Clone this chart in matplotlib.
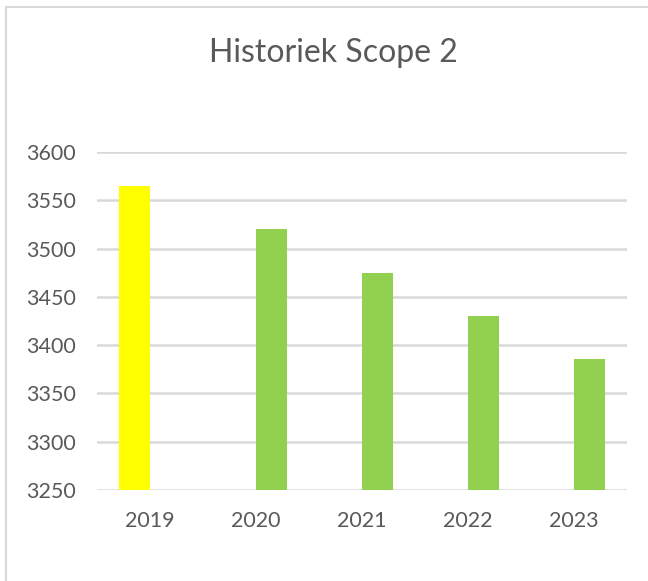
import matplotlib.pyplot as plt
from matplotlib.patches import Rectangle
import numpy as np

plt.rcParams['font.family'] = ['Lato', 'DejaVu Sans']

years = ["2019", "2020", "2021", "2022", "2023"]
series_yellow = [3565, np.nan, np.nan, np.nan, np.nan]
series_green = [np.nan, 3520, 3475, 3430, 3386]

fig = plt.figure(figsize=(6.48, 5.81), dpi=100)

# light chart frame like the Excel chart border
fig.patches.append(Rectangle((6 / 648, -0.1), 1.2, 1 - 7 / 581 + 0.1,
                             transform=fig.transFigure, fill=False,
                             edgecolor="#d9d9d9", linewidth=1.5))

ax = fig.add_axes([97 / 648, 1 - 490 / 581, 530 / 648, 338 / 581])

x = np.arange(len(years))
w = 0.29
ax.bar(x - w / 2, series_yellow, width=w, color="#FFFF00", zorder=3)
ax.bar(x + w / 2, series_green, width=w, color="#92D050", zorder=3)

ax.set_ylim(3250, 3600)
ax.set_yticks(np.arange(3250, 3601, 50))
ax.set_xlim(-0.5, len(years) - 0.5)
ax.set_xticks(x)
ax.set_xticklabels(years)

ax.grid(axis="y", color="#d9d9d9", linewidth=1.8, zorder=0)
for s in ax.spines.values():
    s.set_visible(False)
ax.tick_params(axis="both", length=0, labelsize=15.5, labelcolor="#595959")
ax.tick_params(axis="y", pad=15)
ax.tick_params(axis="x", pad=15)

fig.text(333 / 648, 1 - 53 / 581, "Historiek Scope 2", ha="center", va="center",
         fontsize=23, color="#595959")

fig.savefig("out.png", dpi=100)
